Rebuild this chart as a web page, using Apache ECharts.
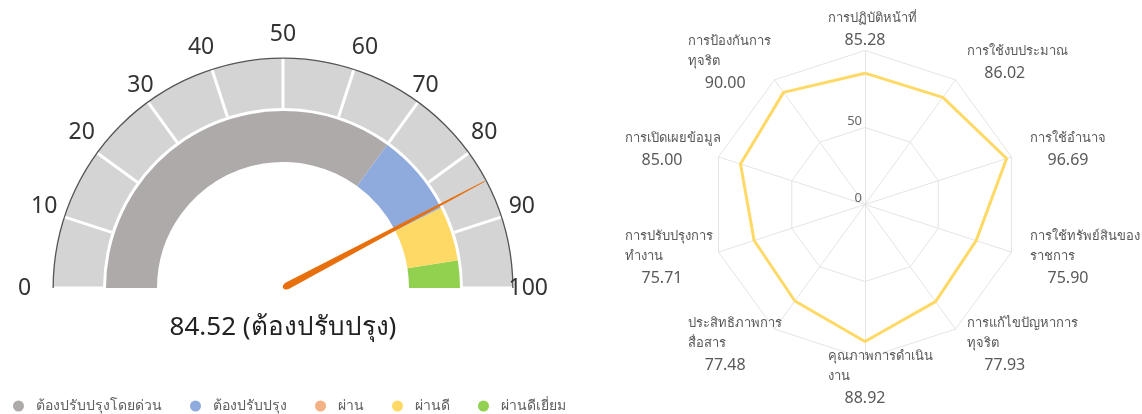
<!DOCTYPE html>
<html>
<head>
<meta charset="utf-8">
<script src="https://cdn.jsdelivr.net/npm/echarts@6/dist/echarts.min.js"></script>
<style>
html, body { margin: 0; padding: 0; background: #fff; }
#main { width: 1142px; height: 414px; }
</style>
</head>
<body>
<div id="main"></div>
<script>
// คะแนนรวม (เกจซ้าย)
var score = 84.52;
var scoreStatus = 'ต้องปรับปรุง';
var gaugeTicks = [0, 10, 20, 30, 40, 50, 60, 70, 80, 90, 100];

// ระดับผลการประเมิน
var levelNames = ['ต้องปรับปรุงโดยด่วน', 'ต้องปรับปรุง', 'ผ่าน', 'ผ่านดี', 'ผ่านดีเยี่ยม'];
var levelUpper = [70, 85, 85, 95, 100];
var levelColors = ['#aeaaaa', '#8faadc', '#f4b183', '#ffd966', '#92d050'];

// ตัวชี้วัด (เรดาร์ขวา) - เรียงทวนเข็มจากด้านบนตามแบบ echarts
var topics = [
    'การปฏิบัติหน้าที่',
    'การป้องกันการ\nทุจริต',
    'การเปิดเผยข้อมูล',
    'การปรับปรุงการ\nทำงาน',
    'ประสิทธิภาพการ\nสื่อสาร',
    'คุณภาพการดำเนิน\nงาน',
    'การแก้ไขปัญหาการ\nทุจริต',
    'การใช้ทรัพย์สินของ\nราชการ',
    'การใช้อำนาจ',
    'การใช้งบประมาณ'
];
var topicScores = [85.28, 90.00, 85.00, 75.71, 77.48, 88.92, 77.93, 75.90, 96.69, 86.02];
var radarTicks = [0, 50, 100];

var fontFamily = "'Noto Sans', sans-serif";
var myChart = echarts.init(document.getElementById('main'));

var gaugeCenter = [283, 288];
var gaugeMin = gaugeTicks[0];
var gaugeMax = gaugeTicks[gaugeTicks.length - 1];

var bandColors = [];
for (var i = 0; i < levelUpper.length; i++) {
    bandColors.push([(levelUpper[i] - gaugeMin) / (gaugeMax - gaugeMin), levelColors[i]]);
}

var baseGauge = {
    type: 'gauge',
    center: gaugeCenter,
    startAngle: 180,
    endAngle: 0,
    min: gaugeMin,
    max: gaugeMax,
    splitNumber: gaugeTicks.length - 1,
    silent: true,
    axisTick: {show: false},
    axisLabel: {show: false},
    splitLine: {show: false},
    pointer: {show: false},
    anchor: {show: false},
    title: {show: false},
    detail: {show: false},
    data: [{value: gaugeMin}]
};

function gauge(extra) {
    var s = JSON.parse(JSON.stringify(baseGauge));
    for (var k in extra) {
        s[k] = extra[k];
    }
    return s;
}

var option = {
    animation: false,
    textStyle: {fontFamily: fontFamily},
    legend: {
        data: levelNames,
        left: 8,
        top: 394,
        icon: 'circle',
        itemWidth: 25,
        itemHeight: 11,
        itemGap: 28,
        selectedMode: false,
        textStyle: {fontSize: 14, color: '#5f5f5f'}
    },
    radar: {
        center: [865, 204.5],
        radius: 154,
        startAngle: 90,
        splitNumber: radarTicks.length - 1,
        nameGap: 20,
        indicator: topics.map(function (t, i) {
            var ind = {name: t, min: radarTicks[0], max: radarTicks[radarTicks.length - 1]};
            if (i === 0) {
                ind.axisLabel = {show: true};
            }
            return ind;
        }),
        axisName: {
            color: '#595959',
            verticalAlign: 'middle',
            formatter: function (name) {
                var idx = topics.indexOf(name);
                var lines = name.split('\n').map(function (s) {
                    return '{n|' + s + '}';
                });
                lines.push('{v|' + topicScores[idx].toFixed(2) + '}');
                return lines.join('\n');
            },
            rich: {
                n: {width: 75, align: 'left', fontSize: 13, lineHeight: 20, color: '#595959', fontFamily: fontFamily},
                v: {width: 75, align: 'center', fontSize: 16, lineHeight: 24, color: '#595959', fontFamily: fontFamily}
            }
        },
        axisLine: {lineStyle: {color: '#e4e4e4'}},
        splitLine: {lineStyle: {color: '#e4e4e4'}},
        splitArea: {show: false},
        axisTick: {show: false},
        axisLabel: {
            show: false,
            color: '#666',
            fontSize: 13,
            margin: 3,
            verticalAlign: 'bottom',
            formatter: function (v) {
                return v === radarTicks[radarTicks.length - 1] ? '' : v;
            }
        }
    },
    series: []
};

option.series = [
    // แถบนอกสีเทาอ่อน แบ่งช่องละ 10
    gauge({
        radius: 230,
        axisLine: {lineStyle: {width: 50, color: [[1, '#d4d4d4']]}},
        splitLine: {show: true, length: 50, distance: -50, lineStyle: {color: '#fff', width: 3}}
    }),
    gauge({
        radius: 230.5,
        axisLine: {lineStyle: {width: 1.3, color: [[1, '#555']]}}
    }),
    gauge({
        radius: 230,
        axisLine: {show: false, lineStyle: {width: 0}},
        axisLabel: {
            show: true,
            distance: -55,
            color: '#333',
            fontSize: 23,
            align: 'center',
            verticalAlign: 'middle',
            padding: [0, 0, 7, 0]
        }
    }),
    gauge({
        radius: 177,
        axisLine: {lineStyle: {width: 51, color: bandColors}},
        pointer: {
            show: true,
            icon: 'path://M4.4,0L5.6,0L10,195A5,5,0,0,1,0,195Z',
            length: 228,
            width: 7,
            offsetCenter: [0, 0],
            itemStyle: {color: '#e8700c'}
        },
        detail: {
            show: true,
            offsetCenter: [0, 40],
            fontSize: 26,
            color: '#222',
            fontWeight: 'normal',
            fontFamily: fontFamily,
            valueAnimation: false,
            formatter: function (v) {
                return v.toFixed(2) + ' (' + scoreStatus + ')';
            }
        },
        data: [{value: score}]
    }),
    {
        type: 'radar',
        symbol: 'none',
        silent: true,
        lineStyle: {color: '#ffd966', width: 3},
        itemStyle: {color: '#ffd966'},
        data: [{value: topicScores, name: 'คะแนน'}]
    },
    {
        // ใช้สำหรับคำอธิบายสัญลักษณ์เท่านั้น
        type: 'pie',
        radius: [0, 0],
        center: [-100, -100],
        silent: true,
        label: {show: false},
        labelLine: {show: false},
        data: levelNames.map(function (n, i) {
            return {name: n, value: 1, itemStyle: {color: levelColors[i]}};
        })
    }
];

myChart.setOption(option);
</script>
</body>
</html>
